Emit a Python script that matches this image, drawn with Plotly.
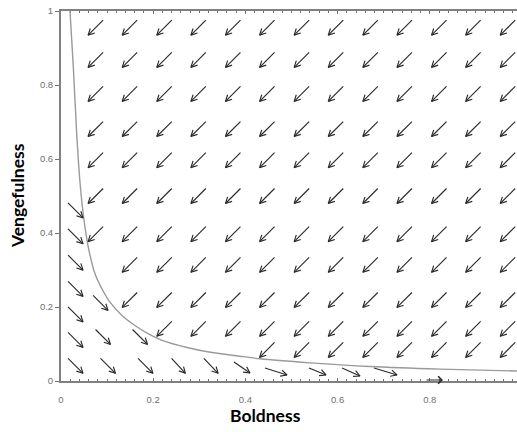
import math
import plotly.graph_objects as go

# ---------------- data ----------------
x_tick_vals = [0, 0.2, 0.4, 0.6, 0.8]
x_tick_text = ["0", "0.2", "0.4", "0.6", "0.8"]
y_tick_vals = [0, 0.2, 0.4, 0.6, 0.8, 1]
y_tick_text = ["0", "0.2", "0.4", "0.6", "0.8", "1"]

# regular field of arrows pointing down-left (centres)
grid_cols = [0.075, 0.149, 0.224, 0.298, 0.373, 0.447, 0.522, 0.596, 0.671, 0.745, 0.820, 0.894, 0.969]
grid_rows = [0.955, 0.868, 0.776, 0.681, 0.597, 0.500, 0.397, 0.314, 0.219, 0.141, 0.084]
grid_first_col = [0, 0, 0, 0, 0, 0, 0, 1, 1, 2, 5]
grid_u = -0.0325
grid_v = -0.0405

# arrows below the boundary curve (centres and vectors)
low_x = [0.0315, 0.0315, 0.0315, 0.0315, 0.0315, 0.0315, 0.0315,
         0.0857, 0.0911, 0.1714, 0.102, 0.1833, 0.2549, 0.3254,
         0.3926, 0.4664, 0.5564, 0.6291, 0.7039]
low_y = [0.461, 0.391, 0.320, 0.249, 0.180, 0.111, 0.041,
         0.211, 0.119, 0.119, 0.041, 0.041, 0.041, 0.041,
         0.0365, 0.0257, 0.0257, 0.0243, 0.0257]
low_u = [0.0325, 0.0325, 0.0325, 0.0325, 0.0325, 0.0325, 0.0325,
         0.0325, 0.0325, 0.0325, 0.0325, 0.0325, 0.0300, 0.0310,
         0.0347, 0.0477, 0.0369, 0.0390, 0.0499]
low_v = [-0.0405, -0.0405, -0.0405, -0.0405, -0.0405, -0.0405, -0.0405,
         -0.0405, -0.0405, -0.0405, -0.0405, -0.0405, -0.0405, -0.0405,
         -0.0297, -0.0189, -0.0189, -0.0216, -0.0189]

# arrow lying on the Boldness axis (centre and vector)
axis_arrow_x, axis_arrow_y = 0.8091, 0.0027
axis_arrow_u, axis_arrow_v = 0.0390, 0.0

# boundary curve
curve_x = [0.0195, 0.0267, 0.0341, 0.0412, 0.0484, 0.0592, 0.0738, 0.0911, 0.1063,
           0.1317, 0.1605, 0.1887, 0.2191, 0.2755, 0.3275, 0.3948, 0.4317, 0.5401,
           0.6703, 0.822, 0.989]
curve_y = [1.0, 0.849, 0.668, 0.537, 0.450, 0.362, 0.290, 0.244, 0.213,
           0.178, 0.150, 0.128, 0.110, 0.090, 0.077, 0.066, 0.060, 0.049,
           0.039, 0.032, 0.027]

# ---------------- layout geometry ----------------
W, H = 517, 432
ML, MR, MT, MB = 61, 0, 11, 51
PW, PH = W - ML - MR, H - MT - MB
SX = 461.0          # px per x unit
SY = PH / 1.0       # px per y unit
XMAX = PW / SX

arrows = []
for r, yc in enumerate(grid_rows):
    for xc in grid_cols[grid_first_col[r]:]:
        arrows.append((xc, yc, grid_u, grid_v))
for a in zip(low_x, low_y, low_u, low_v):
    arrows.append(a)

ax_, ay_ = [], []
BARB = 7.0
ANG = math.radians(27)
for cx, cy, u, v in arrows:
    tx, ty = cx - u / 2, cy - v / 2
    hx, hy = cx + u / 2, cy + v / 2
    dx, dy = u * SX, v * SY
    L = math.hypot(dx, dy)
    ux, uy = dx / L, dy / L
    ax_ += [tx, hx, None]
    ay_ += [ty, hy, None]
    pts = []
    for s in (1, -1):
        rx = ux * math.cos(ANG) - s * uy * math.sin(ANG)
        ry = s * ux * math.sin(ANG) + uy * math.cos(ANG)
        pts.append((hx - BARB * rx / SX, hy - BARB * ry / SY))
    ax_ += [pts[0][0], hx, pts[1][0], None]
    ay_ += [pts[0][1], hy, pts[1][1], None]

fig = go.Figure()
fig.add_trace(go.Scatter(x=curve_x, y=curve_y, mode="lines",
                         line=dict(color="#9a9a9a", width=1.4, shape="spline", smoothing=1.0),
                         hoverinfo="skip", showlegend=False))
fig.add_trace(go.Scatter(x=ax_, y=ay_, mode="lines",
                         line=dict(color="#2a2a2a", width=1.15),
                         hoverinfo="skip", showlegend=False))

tick_font = dict(family="Liberation Sans, Arial, sans-serif", size=9.5, color="#707070")
title_font = dict(family="Lato, Open Sans, sans-serif", size=17.5, color="black")
fig.update_layout(
    width=W, height=H,
    margin=dict(l=ML, r=MR, t=MT, b=MB, pad=0),
    paper_bgcolor="white", plot_bgcolor="white",
    xaxis=dict(range=[0, XMAX], tickvals=x_tick_vals, ticktext=x_tick_text,
               showline=True, linecolor="#808080", linewidth=2, mirror="allticks",
               ticks="inside", ticklen=3, tickcolor="#707070", tickwidth=1,
               minor=dict(dtick=0.02, tick0=0, ticks="inside", ticklen=2, tickcolor="#707070"),
               showgrid=False, zeroline=False, tickfont=tick_font, ticklabelstandoff=9,
               ticklabeloverflow="allow", layer="below traces", fixedrange=True),
    yaxis=dict(range=[0, 1], tickvals=y_tick_vals, ticktext=y_tick_text,
               showline=True, linecolor="#808080", linewidth=2, mirror=False,
               ticks="outside", ticklen=4, tickcolor="#707070", tickwidth=1,
               showgrid=False, zeroline=False, tickfont=tick_font,
               ticklabeloverflow="allow", layer="below traces", fixedrange=True),
    annotations=[
        dict(text="", x=axis_arrow_x + axis_arrow_u / 2, y=axis_arrow_y + axis_arrow_v / 2,
             ax=axis_arrow_x - axis_arrow_u / 2, ay=axis_arrow_y - axis_arrow_v / 2,
             xref="x", yref="y", axref="x", ayref="y", showarrow=True,
             arrowhead=4, arrowsize=1.3, arrowwidth=1.1, arrowcolor="#2a2a2a", standoff=0),
        dict(text="<b>Boldness</b>", xref="paper", yref="paper",
             x=(265 - ML) / PW, y=(MT + PH - 415) / PH, xanchor="center", yanchor="middle",
             showarrow=False, font=title_font),
        dict(text="<b>Vengefulness</b>", xref="paper", yref="paper", textangle=-90,
             x=(17 - ML) / PW, y=(MT + PH - 196) / PH, xanchor="center", yanchor="middle",
             showarrow=False, font=title_font),
    ],
)

fig.write_html("out.html", config={"displayModeBar": False, "staticPlot": True},
               post_script="document.body.style.margin='0';")
